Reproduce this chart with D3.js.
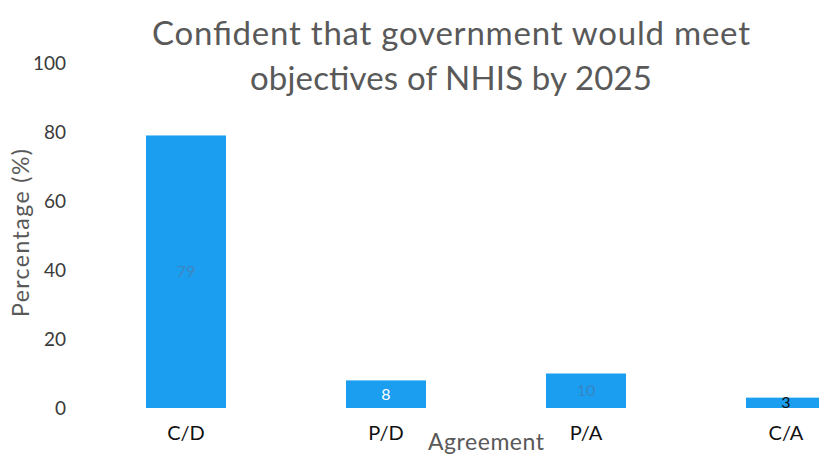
<!DOCTYPE html>
<html>
<head>
<meta charset="utf-8">
<script src="https://cdn.jsdelivr.net/npm/d3@7"></script>
<style>
  html, body { margin: 0; padding: 0; background: #fff; }
  svg { display: block; }
</style>
</head>
<body>
<svg id="chart" width="819" height="455"></svg>
<script>
// Survey responses: confidence that NHIS objectives will be met by 2025
const categories = ["C/D", "P/D", "P/A", "C/A"];
const percentages = [79, 8, 10, 3];
const valueLabelColors = ["#3d86bf", "#ffffff", "#3585c4", "#111111"];
const yTicks = [0, 20, 40, 60, 80, 100];
const titleLines = ["Confident that government would meet", "objectives of NHIS by 2025"];

const svg = d3.select("#chart");
const font = "Lato, 'Open Sans', sans-serif";

const x = d3.scaleBand()
  .domain(categories)
  .range([86, 886])
  .paddingInner(0.6)
  .paddingOuter(0.3);

const y = d3.scaleLinear()
  .domain([0, 100])
  .range([408, 63]);

// Y axis: tick labels only, no line or tick marks
const yAxis = d3.axisLeft(y).tickValues(yTicks).tickSize(0).tickPadding(0);
const gy = svg.append("g")
  .attr("transform", "translate(66,0)")
  .call(yAxis);
gy.select(".domain").remove();
gy.selectAll("text")
  .attr("font-family", font)
  .attr("font-size", 19)
  .attr("fill", "#3a3a3a");

// X axis: category labels
const xAxis = d3.axisBottom(x).tickSize(0).tickPadding(0);
const gx = svg.append("g")
  .attr("transform", "translate(0,426)")
  .call(xAxis);
gx.select(".domain").remove();
gx.selectAll("text")
  .attr("font-family", font)
  .attr("font-size", 20)
  .attr("fill", "#111");

// Bars
svg.append("g").selectAll("rect")
  .data(categories)
  .join("rect")
  .attr("x", d => x(d))
  .attr("width", x.bandwidth())
  .attr("y", (d, i) => y(percentages[i]))
  .attr("height", (d, i) => y(0) - y(percentages[i]))
  .attr("fill", "#1c9ef0");

// Value labels centred in each bar
svg.append("g").selectAll("text")
  .data(categories)
  .join("text")
  .attr("x", d => x(d) + x.bandwidth() / 2)
  .attr("y", (d, i) => (y(percentages[i]) + y(0)) / 2)
  .attr("dy", "0.35em")
  .attr("text-anchor", "middle")
  .attr("font-family", font)
  .attr("font-size", 16)
  .attr("fill", (d, i) => valueLabelColors[i])
  .text((d, i) => percentages[i]);

// Title, two centred lines
const titleWidths = [598, 402];
svg.append("g").selectAll("text")
  .data(titleLines)
  .join("text")
  .attr("x", 451)
  .attr("y", (d, i) => 45 + i * 45)
  .attr("text-anchor", "middle")
  .attr("font-family", font)
  .attr("font-size", 33)
  .attr("fill", "#595959")
  .attr("textLength", (d, i) => titleWidths[i])
  .attr("lengthAdjust", "spacing")
  .text(d => d);

// Axis titles
svg.append("text")
  .attr("transform", "translate(29,233) rotate(-90)")
  .attr("text-anchor", "middle")
  .attr("font-family", font)
  .attr("font-size", 23)
  .attr("fill", "#595959")
  .attr("textLength", 168)
  .attr("lengthAdjust", "spacing")
  .text("Percentage (%)");

svg.append("text")
  .attr("x", 486)
  .attr("y", 450)
  .attr("text-anchor", "middle")
  .attr("font-family", font)
  .attr("font-size", 23)
  .attr("fill", "#595959")
  .attr("textLength", 116)
  .attr("lengthAdjust", "spacing")
  .text("Agreement");
</script>
</body>
</html>
